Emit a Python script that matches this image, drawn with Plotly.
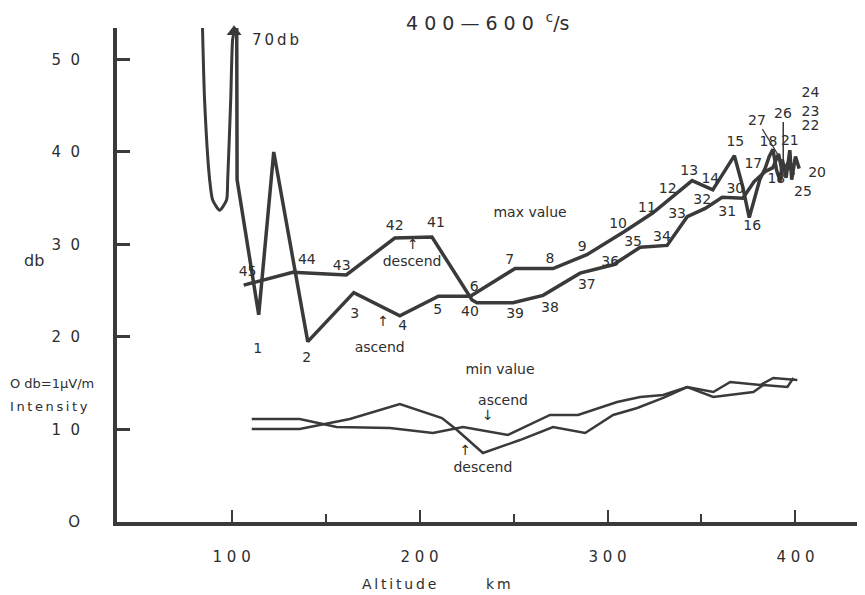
import plotly.graph_objects as go

# ---------------- data (km, db) ----------------
# left off-scale excursion (rises toward 70 db)
spike_km = [84.5, 85.6, 88.3, 89.9, 93.6, 97.3, 97.9, 99.5, 100.5, 101.3]
spike_db = [53.4, 45.6, 37.0, 34.8, 33.7, 34.8, 37.0, 45.6, 52.1, 53.0]

# max value, ascend (points 1 .. 26)
asc_max_km = [102.7, 102.9, 114.4, 122.4, 140.5, 165.0, 189.5, 210.0, 227.0, 250.8,
              271.0, 289.0, 309.0, 324.0, 345.0, 356.0, 367.5, 372.0, 375.4, 381.0,
              384.0, 386.0, 388.0, 390.0, 392.0, 393.0, 395.0, 397.0, 398.0, 400.0, 402.0]
asc_max_db = [53.4, 37.0, 22.4, 40.0, 19.5, 24.8, 22.3, 24.4, 24.4, 27.4,
              27.4, 28.9, 31.4, 33.4, 36.9, 35.9, 39.6, 36.2, 32.9, 37.0,
              38.3, 39.5, 40.3, 38.0, 36.8, 39.2, 37.2, 40.2, 37.0, 39.5, 38.2]

# max value, descend (points 27 .. 45)
desc_max_km = [399.0, 396.0, 393.0, 391.0, 388.0, 384.0, 378.0, 372.0, 361.0, 352.0,
               342.4, 331.7, 317.4, 303.0, 285.4, 265.7, 249.7, 230.5, 227.9, 206.6,
               186.8, 161.0, 132.5, 106.4]
desc_max_db = [37.5, 38.8, 37.8, 39.8, 38.3, 37.9, 36.8, 35.0, 35.1, 33.9,
               33.0, 29.9, 29.7, 27.8, 26.9, 24.5, 23.7, 23.7, 24.0, 30.8,
               30.7, 26.7, 27.0, 25.6]

# min value, ascend
asc_min_km = [110.7, 136.2, 155.9, 184.2, 207.1, 223.1, 247.0, 269.4, 284.3, 305.1,
              317.4, 329.6, 342.4, 356.3, 365.3, 381.3, 388.2, 401.0]
asc_min_db = [11.14, 11.14, 10.27, 10.16, 9.62, 10.27, 9.41, 11.57, 11.57, 12.97,
              13.51, 13.73, 14.59, 14.05, 15.14, 14.81, 15.57, 15.35]

# min value, descend
desc_min_km = [110.7, 136.2, 162.9, 189.5, 211.9, 219.9, 233.7, 253.4, 271.0, 288.1,
               303.0, 315.8, 329.6, 342.4, 356.3, 377.6, 382.9, 395.7, 398.9]
desc_min_db = [10.05, 10.05, 11.14, 12.76, 11.24, 9.95, 7.46, 8.86, 10.27, 9.62,
               11.57, 12.32, 13.41, 14.59, 13.51, 14.05, 14.81, 14.59, 15.57]

# point numbers
num_text = ["1", "2", "3", "4", "5", "6", "7", "8", "9", "10", "11", "12", "13", "14",
            "15", "16", "17", "18", "18", "21", "22", "23", "24", "20", "25",
            "45", "44", "43", "42", "41", "40", "39", "38", "37", "36", "35", "34",
            "33", "32", "31", "30"]
num_km = [113.9, 140.0, 165.5, 191.0, 209.7, 229.0, 248.0, 269.4, 286.5, 305.6, 321.0,
          332.0, 343.5, 354.7, 368.0, 377.0, 377.6, 385.6, 389.8, 397.0, 408.0, 408.0,
          408.0, 411.5, 404.0,
          108.5, 140.0, 158.6, 186.8, 208.7, 226.8, 250.8, 269.4, 289.0, 301.4, 313.6,
          329.0, 337.0, 350.4, 363.7, 368.0]
num_db = [18.6, 17.7, 22.4, 21.1, 22.9, 25.4, 28.3, 28.4, 29.7, 32.2, 33.9,
          35.9, 37.9, 37.0, 41.0, 31.9, 38.6, 41.0, 37.0, 41.1, 42.7, 44.3,
          46.3, 37.7, 35.6,
          27.0, 28.3, 27.6, 31.9, 32.3, 22.6, 22.4, 23.1, 25.6, 28.1, 30.2,
          30.8, 33.2, 34.8, 33.5, 35.9]

# descriptive words
word_text = ["max value", "descend", "↑", "ascend", "↑", "min value", "ascend", "↓",
             "descend", "↑"]
word_km = [258.8, 196.0, 196.4, 178.8, 180.6, 242.8, 244.4, 236.4, 233.7, 224.3]
word_db = [33.4, 28.1, 29.9, 18.8, 21.6, 16.4, 13.0, 11.4, 5.8, 7.6]

x_ticks = [100, 200, 300, 400]
x_ticktext = ["1 0 0", "2 0 0", "3 0 0", "4 0 0"]
x_minor = [150, 250, 350]
y_ticks = [0, 10, 20, 30, 40, 50]
y_ticktext = ["O", "1  0", "2  0", "3  0", "4  0", "5  0"]

INK = "#3a3a3a"
TXT = "#2e2e2e"
FONT = "DejaVu Sans"
TS = "\u2009"  # thin space for letter-spaced lettering


def spaced(s):
    return TS.join(s)


# the page body adds an 8 px margin, so the figure is 8 px smaller and margins shifted
W, H = 857, 587

fig = go.Figure()
fig.add_trace(go.Scatter(x=spike_km, y=spike_db, mode="lines",
                         line=dict(color=INK, width=3, shape="spline", smoothing=0.6), hoverinfo="skip"))
fig.add_trace(go.Scatter(x=asc_max_km, y=asc_max_db, mode="lines", line=dict(color=INK, width=3.5), hoverinfo="skip"))
fig.add_trace(go.Scatter(x=desc_max_km, y=desc_max_db, mode="lines", line=dict(color=INK, width=3.5), hoverinfo="skip"))
fig.add_trace(go.Scatter(x=asc_min_km, y=asc_min_db, mode="lines", line=dict(color=INK, width=2.5), hoverinfo="skip"))
fig.add_trace(go.Scatter(x=desc_min_km, y=desc_min_db, mode="lines", line=dict(color=INK, width=2.5), hoverinfo="skip"))
# arrow head of the off-scale excursion
fig.add_trace(go.Scatter(x=[spike_km[-1]], y=[spike_db[-1]], mode="markers",
                         marker=dict(symbol="triangle-up", size=13, color=INK), hoverinfo="skip", cliponaxis=False))
# point numbers
fig.add_trace(go.Scatter(x=num_km, y=num_db, mode="text", text=num_text,
                         textfont=dict(family=FONT, size=14, color=TXT), hoverinfo="skip", cliponaxis=False))
fig.add_trace(go.Scatter(x=word_km, y=word_db, mode="text", text=word_text,
                         textfont=dict(family=FONT, size=14, color=TXT), hoverinfo="skip", cliponaxis=False))

L, T, B = 109, 20, 73
PW, PH = W - L, H - T - B


def px(xp):
    return (xp - 8 - L) / PW


def py(yp):
    return (H - B - (yp - 8)) / PH


def label(text, xp, yp, size, xanchor="center"):
    return dict(xref="paper", yref="paper", x=px(xp), y=py(yp), xanchor=xanchor, yanchor="middle",
                text=text, showarrow=False, font=dict(family=FONT, size=size, color=TXT))


annos = [
    label("4 0 0 — 6 0 0  <sup>c</sup>/s", 487, 22, 19),
    label(spaced("70db"), 250, 40, 15, "left"),
    label("db", 34, 260, 16),
    label("O db=1μV/m", 8, 383, 13, "left"),
    label(spaced("Intensity"), 8, 406, 13, "left"),
    label(spaced("Altitude"), 360, 584, 14, "left"),
    label(spaced("km"), 484, 584, 14, "left"),
]
annos.append(dict(xref="x", yref="y", x=391, y=39.6, ax=-22, ay=-36, text="27", arrowhead=0, arrowwidth=1.2,
                  arrowcolor=INK, font=dict(family=FONT, size=14, color=TXT)))
annos.append(dict(xref="x", yref="y", x=393.5, y=38.2, ax=0, ay=-56, text="26", arrowhead=0, arrowwidth=1.5,
                  arrowcolor=INK, font=dict(family=FONT, size=14, color=TXT)))

fig.update_layout(
    width=W, height=H,
    margin=dict(l=L, r=0, t=T, b=B, autoexpand=False),
    paper_bgcolor="white", plot_bgcolor="white",
    showlegend=False,
    annotations=annos,
    xaxis=dict(range=[39, 437], showgrid=False, zeroline=False, showline=True, linecolor=INK, linewidth=4,
               tickvals=x_ticks, ticktext=x_ticktext, ticks="inside", ticklen=12, tickwidth=2,
               tickcolor=INK, ticklabelstandoff=18, automargin=False,
               tickfont=dict(family=FONT, size=15, color=TXT),
               minor=dict(tickvals=x_minor, ticks="inside", ticklen=8, tickwidth=2, tickcolor=INK)),
    yaxis=dict(range=[0, 53.4], showgrid=False, zeroline=False, showline=True, linecolor=INK, linewidth=4,
               tickvals=y_ticks, ticktext=y_ticktext, ticks="inside", ticklen=13, tickwidth=3,
               tickcolor=INK, ticklabelstandoff=30, automargin=False,
               tickfont=dict(family=FONT, size=15, color=TXT)),
)

fig.write_html("out.html")
